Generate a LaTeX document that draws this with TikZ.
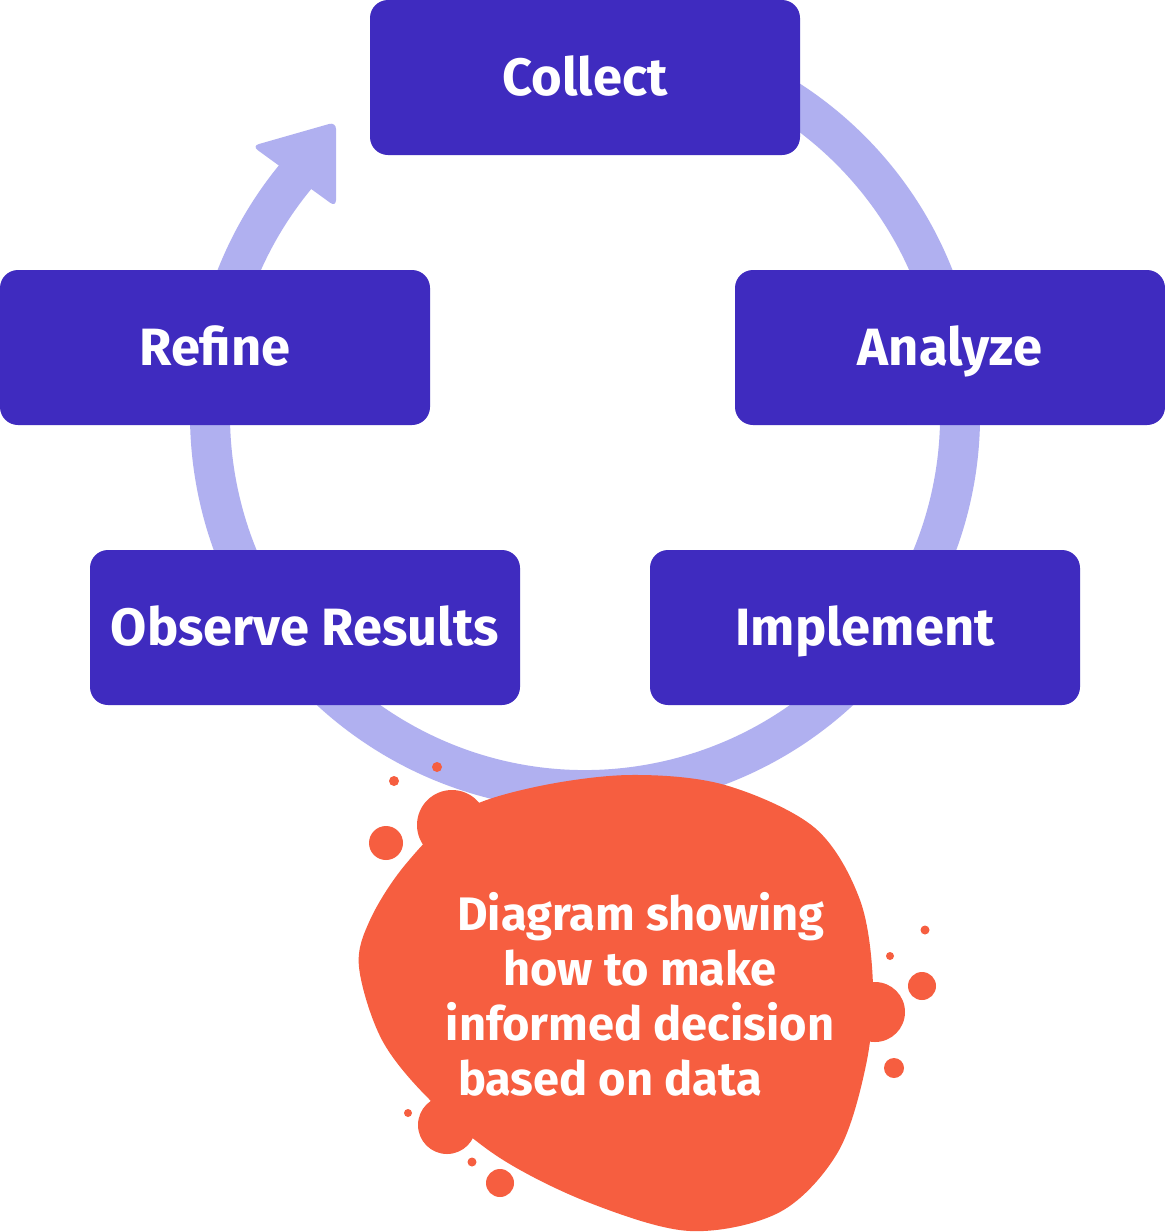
\documentclass[tikz,border=0pt]{standalone}
\usepackage{fontspec}
\setmainfont{Fira Sans}
\definecolor{boxc}{RGB}{63,43,191}
\definecolor{ringc}{RGB}{176,176,240}
\definecolor{blobc}{RGB}{246,94,64}
\begin{document}
\begin{tikzpicture}[x=1pt,y=-1pt,
  stepbox/.style={fill=boxc, rounded corners=18pt, minimum width=430pt, minimum height=155pt,
    text=white, font=\fontsize{52.5}{55}\selectfont\bfseries, text height=36pt, text depth=0pt, inner sep=0pt},
  ring/.style={draw=ringc, line width=40pt},
  blobtext/.style={text=white, font=\fontsize{47}{55}\selectfont\bfseries, anchor=base, inner sep=0pt}]
\fill[white] (0,0) rectangle (1165,1232);
\useasboundingbox (0,0) rectangle (1165,1232);

% cycle ring with arrow
\coordinate (ctr) at (585,415);
\draw[ring] ([shift={(-100:375)}]ctr) arc[start angle=-100, end angle=220, radius=375];
\fill[ringc, rounded corners=7pt] (252,146) -- (336,122) -- (336,207) -- cycle;

% steps
\node[stepbox] (collect) at (585,77.5) {Collect};
\node[stepbox] (refine) at (215,347.5) {Refine};
\node[stepbox] (analyze) at (950,347.5) {Analyze};
\node[stepbox] (observe) at (305,627.5) {Observe Results};
\node[stepbox] (implement) at (865,627.5) {Implement};

% blob
\fill[blobc] plot[smooth cycle, tension=0.55] coordinates {
 (359,967) (382,1040) (430,1100) (500,1158) (590,1203) (690,1231) (780,1212)
 (838,1152) (866,1065) (873,985) (860,900) (815,828) (725,785) (630,775)
 (535,787) (460,812) (405,865) (370,920)};
\fill[blobc] (452,825) circle[radius=35];
\fill[blobc] (447,1125) circle[radius=29];
\fill[blobc] (875,1012) circle[radius=30];
% dots
\foreach \p/\r in {{(437,767)}/5, {(394,781)}/5, {(386,843)}/17, {(925,930)}/4.5,
  {(890,956)}/4, {(922,986)}/14, {(894,1068)}/10, {(408,1113)}/4, {(472,1162)}/4.5, {(500,1183)}/14}
  \fill[blobc] \p circle[radius=\r];

\node[blobtext] (l1) at (641,930) {Diagram showing};
\node[blobtext] (l2) at (640,985) {how to make};
\node[blobtext] (l3) at (640,1040) {informed decision};
\node[blobtext] (l4) at (610,1095) {based on data};
\end{tikzpicture}
\end{document}
